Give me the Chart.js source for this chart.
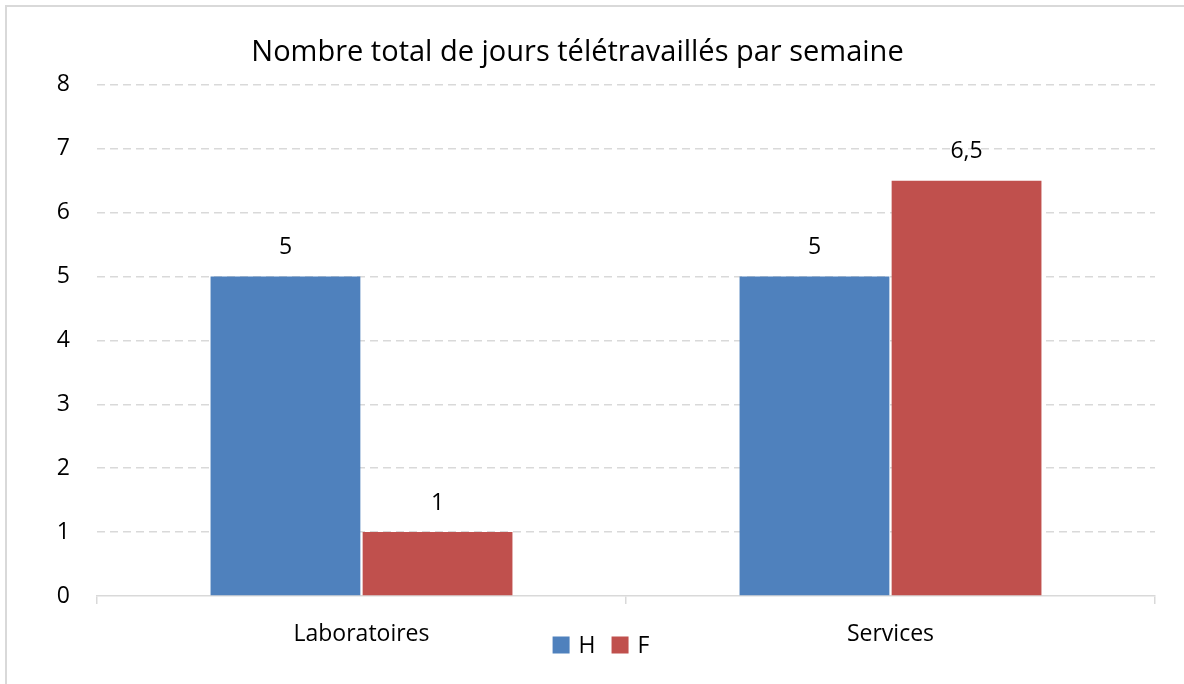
<!DOCTYPE html>
<html>
<head>
<meta charset="utf-8">
<script src="https://cdn.jsdelivr.net/npm/chart.js@4"></script>
<style>
  body { margin: 0; background: #fff; }
  #wrap { width: 1184px; height: 684px; }
</style>
</head>
<body>
<div id="wrap"><canvas id="teletravail" width="1184" height="684"></canvas></div>
<script>
const categories = ['Laboratoires', 'Services']
const seriesH = [5, 5]
const seriesF = [1, 6.5]
const yTicks = [0, 1, 2, 3, 4, 5, 6, 7, 8]

const FONT = "'Open Sans', 'Liberation Sans', sans-serif"

// frame around the chart (right and bottom edges fall outside the picture)
const framePlugin = {
    id: 'frame',
    beforeDraw(chart) {
        const ctx = chart.ctx
        ctx.save()
        ctx.fillStyle = '#fff'
        ctx.fillRect(0, 0, chart.width, chart.height)
        ctx.strokeStyle = '#d9d9d9'
        ctx.lineWidth = 2
        ctx.strokeRect(6, 6, chart.width + 20, chart.height + 20)
        ctx.restore()
    }
}

// value labels above each bar, french decimal comma
const valueLabels = {
    id: 'valueLabels',
    afterDatasetsDraw(chart) {
        const ctx = chart.ctx
        ctx.save()
        ctx.font = '23px ' + FONT
        ctx.fillStyle = '#000'
        ctx.textAlign = 'center'
        ctx.textBaseline = 'middle'
        chart.data.datasets.forEach((ds, i) => {
            chart.getDatasetMeta(i).data.forEach((bar, j) => {
                const txt = String(ds.data[j]).replace('.', ',')
                ctx.fillText(txt, bar.x, bar.y - 29)
            })
        })
        ctx.restore()
    }
}

// legend sits in the band of the category labels, so it is drawn here
const bottomLegend = {
    id: 'bottomLegend',
    afterDraw(chart) {
        const ctx = chart.ctx
        const box = 17, gapText = 9, gapItem = 16
        ctx.save()
        ctx.font = '23px ' + FONT
        ctx.textBaseline = 'middle'
        ctx.textAlign = 'left'
        const items = chart.data.datasets.map(ds => ({
            label: ds.label, color: ds.backgroundColor, w: ctx.measureText(ds.label).width
        }))
        let total = 0
        items.forEach((it, i) => { total += box + gapText + it.w + (i ? gapItem : 0) })
        let x = 601 - total / 2
        const cy = 645
        items.forEach((it, i) => {
            if (i) x += gapItem
            ctx.fillStyle = it.color
            ctx.fillRect(x, cy - box / 2, box, box)
            x += box + gapText
            ctx.fillStyle = '#000'
            ctx.fillText(it.label, x, cy + 1)
            x += it.w
        })
        ctx.restore()
    }
}

new Chart(document.getElementById('teletravail'), {
    type: 'bar',
    data: {
        labels: categories,
        datasets: [
            {
                label: 'H',
                data: seriesH,
                backgroundColor: '#4F81BD',
                categoryPercentage: 0.575,
                barPercentage: 0.985,
            },
            {
                label: 'F',
                data: seriesF,
                backgroundColor: '#C0504D',
                categoryPercentage: 0.575,
                barPercentage: 0.985,
            },
        ]
    },
    options: {
        responsive: false,
        animation: false,
        layout: { padding: { left: 0, right: 29, top: 0, bottom: 36 } },
        plugins: {
            title: {
                display: true,
                text: 'Nombre total de jours télétravaillés par semaine',
                color: '#000',
                font: { family: FONT, size: 29, weight: 'normal' },
                padding: { top: 35, bottom: 15 },
            },
            legend: { display: false },
            tooltip: { enabled: false },
        },
        scales: {
            x: {
                grid: {
                    offset: true,
                    drawOnChartArea: false,
                    color: '#d9d9d9',
                    lineWidth: 1.5,
                    tickLength: 8,
                },
                border: { color: '#d9d9d9', width: 1.5 },
                ticks: {
                    color: '#000',
                    font: { family: FONT, size: 23 },
                    padding: 17,
                },
                afterFit: (scale) => { scale.height = 52 },
            },
            y: {
                min: 0,
                max: 8,
                afterBuildTicks: (scale) => { scale.ticks = yTicks.map(v => ({ value: v })) },
                grid: {
                    color: (c) => c.tick.value === 0 ? 'rgba(0,0,0,0)' : '#d9d9d9',
                    lineWidth: 1.5,
                    drawTicks: false,
                },
                border: { display: false, dash: [8, 5] },
                ticks: {
                    color: '#000',
                    font: { family: FONT, size: 23 },
                    padding: 27,
                },
                afterFit: (scale) => { scale.width = 97 },
            },
        },
    },
    plugins: [framePlugin, valueLabels, bottomLegend],
})
</script>
</body>
</html>
